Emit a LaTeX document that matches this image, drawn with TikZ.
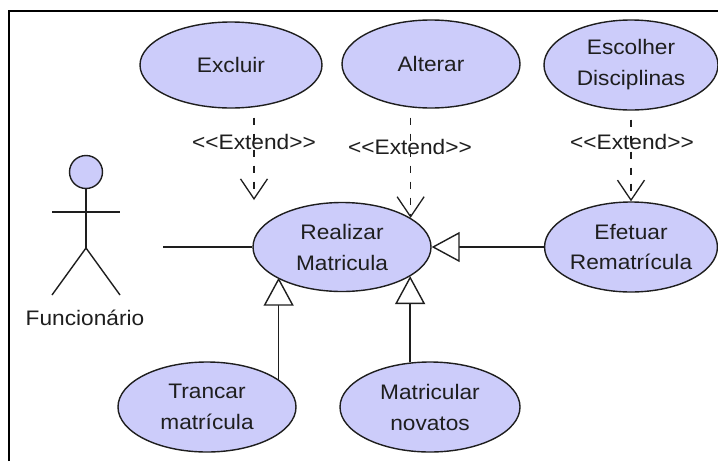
\documentclass[tikz,border=0pt]{standalone}
\usepackage{fontspec}
\setmainfont{Liberation Sans}[FakeStretch=1.08]
\usetikzlibrary{arrows.meta,shapes.geometric}
\definecolor{ucfill}{RGB}{204,204,250}
\definecolor{ink}{RGB}{30,30,30}
% stereotype label, kerns keep the angle brackets from merging
\newcommand{\stereotype}[1]{<\kern0pt<#1>\kern0pt>}

\begin{document}
\begin{tikzpicture}[x=1pt,y=-1pt,
  every node/.style={font=\fontsize{21}{31}\selectfont, text=ink},
  usecase/.style={ellipse, draw=ink, line width=1.4pt, fill=ucfill,
    inner sep=0pt, align=center},
  extendline/.style={draw=ink, line width=1.3pt,
    dash pattern=on 7pt off 9pt, dash phase=7pt,
    -{Straight Barb[length=20pt,width=27pt]}},
  genline/.style={draw=ink, line width=1.4pt,
    -{Triangle[open,length=28pt,width=30pt,fill=white]}},
  assocline/.style={draw=ink, line width=1.4pt},
  stick/.style={draw=ink, line width=1.4pt}]

\useasboundingbox (0,0) rectangle (718,461);
\fill[white] (0,0) rectangle (718,461);

% outer frame
\draw[black, line width=2pt] (9,461) -- (9,11) -- (718,11);

% use cases
\node[usecase, minimum width=182pt, minimum height=86pt] (exc) at (231,65) {Excluir};
\node[usecase, minimum width=178pt, minimum height=88pt] (alt) at (431,64) {Alterar};
\node[usecase, minimum width=174pt, minimum height=90pt] (esc) at (631,65) {Escolher\\Disciplinas};
\node[usecase, minimum width=178pt, minimum height=89pt] (rea) at (342,247) {Realizar\\Matricula};
\node[usecase, minimum width=172pt, minimum height=90pt] (efe) at (631,247) {Efetuar\\Rematrícula};
\node[usecase, minimum width=178pt, minimum height=90pt] (tra) at (207,407) {Trancar\\matrícula};
\node[usecase, minimum width=180pt, minimum height=90pt] (mat) at (430,407) {Matricular\\novatos};

% actor
\node[circle, draw=ink, line width=1.4pt, fill=ucfill, minimum size=33pt, inner sep=0pt] (head) at (86,172) {};
\coordinate (hip) at (86,248);
\coordinate (armL) at (52,212);
\coordinate (armR) at (120,212);
\coordinate (legL) at (52,295);
\coordinate (legR) at (120,295);
\draw[stick] (head.south) -- (hip);
\draw[stick] (armL) -- (armR);
\draw[stick] (legL) -- (hip) -- (legR);
\node (fun) at (85,318) {Funcionário};

% association
\coordinate (assocEnd) at (163,247);
\draw[assocline] (assocEnd) -- (rea.west);

% extend relations
\coordinate (extTip) at (254,200);
\draw[extendline] (extTip |- exc.south) -- (extTip);
\node (lblA) at (254,142) {\stereotype{Extend}};

\draw[extendline] (rea.23 |- alt.south) -- (rea.23);
\node (lblB) at (410,147) {\stereotype{Extend}};

\draw[extendline] (esc.south) -- (efe.north);
\node (lblC) at (632,142) {\stereotype{Extend}};

% generalizations
\draw[genline] (efe.west) -- (rea.east);
\draw[genline] (tra.21.58) -- (tra.21.58 |- rea.205.5);
\draw[genline] (mat.114.4) -- (mat.114.4 |- rea.-23);

\end{tikzpicture}
\end{document}
